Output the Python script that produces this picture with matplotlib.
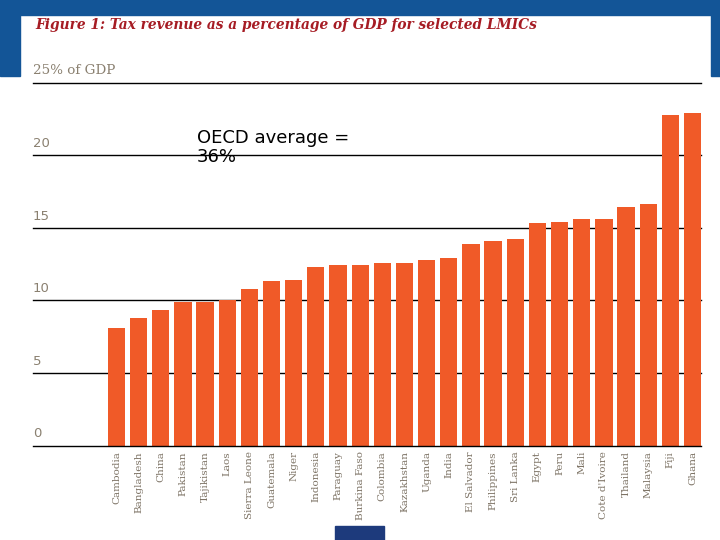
import matplotlib
matplotlib.use("Agg")
import matplotlib.pyplot as plt
from matplotlib.patches import Rectangle

countries = ["Cambodia", "Bangladesh", "China", "Pakistan", "Tajikistan", "Laos",
             "Sierra Leone", "Guatemala", "Niger", "Indonesia", "Paraguay",
             "Burkina Faso", "Colombia", "Kazakhstan", "Uganda", "India",
             "El Salvador", "Philippines", "Sri Lanka", "Egypt", "Peru", "Mali",
             "Cote d'Ivoire", "Thailand", "Malaysia", "Fiji", "Ghana"]
values = [8.1, 8.8, 9.35, 9.85, 9.85, 10.0, 10.75, 11.3, 11.4, 12.3, 12.45,
          12.45, 12.6, 12.6, 12.8, 12.9, 13.9, 14.1, 14.25, 15.35, 15.4, 15.6,
          15.6, 16.45, 16.6, 22.75, 22.9]
yticks = [0, 5, 10, 15, 20]
ytick_labels = ["0", "5", "10", "15", "20"]
title = "Figure 1: Tax revenue as a percentage of GDP for selected LMICs"
unit_label = "25% of GDP"
note = "OECD average =\n36%"

W, H = 720, 540
fig = plt.figure(figsize=(7.2, 5.4), dpi=100)
fig.patch.set_facecolor("white")

blue = "#135597"
def frect(x0, y0, x1, y1, color):
    # pixel coords with y from top
    fig.patches.append(Rectangle((x0 / W, 1 - y1 / H), (x1 - x0) / W, (y1 - y0) / H,
                                 transform=fig.transFigure, color=color, zorder=0))
frect(0, 0, 720, 15, blue)
frect(0, 0, 20, 76, blue)
frect(711, 0, 720, 76, blue)
frect(335, 526, 384, 540, "#1d3a7c")

ax_left, ax_right = 33, 701
y0px, y25px = 445.5, 82.5
ax = fig.add_axes([ax_left / W, 1 - y0px / H, (ax_right - ax_left) / W, (y0px - y25px) / H])
ax.set_facecolor("none")
for s in ax.spines.values():
    s.set_visible(False)

n = len(countries)
pitch = 22.16
first_c = 116.4
xl = -(first_c - ax_left) / pitch
xr = (n - 1) + (ax_right - (first_c + pitch * (n - 1))) / pitch
ax.set_xlim(xl, xr)
ax.set_ylim(0, 25)

for v in yticks + [25]:
    ax.axhline(v, color="black", lw=1.0, zorder=3 if v == 0 else 1, clip_on=False)

ax.bar(range(n), values, width=0.78, color="#f05a28", zorder=2)

ax.set_xticks(range(n))
ax.set_xticklabels(countries, rotation=90, fontsize=7.5, color="#7d7365",
                   family="DejaVu Serif")
ax.tick_params(axis="x", length=0, pad=4)
ax.set_yticks([])

for v, lab in zip(yticks, ytick_labels):
    ax.text(0, v + 0.35, lab, transform=ax.get_yaxis_transform(), ha="left",
            va="bottom", fontsize=9.5, color="#8a8070", family="DejaVu Sans")
ax.text(0, 25.35, unit_label, transform=ax.get_yaxis_transform(), ha="left",
        va="bottom", fontsize=9.7, color="#8a8070", family="DejaVu Serif")

fig.text(35 / W, 1 - 25 / H, title, ha="left", va="center", fontsize=9.9,
         color="#a61c24", weight="bold", style="italic", family="DejaVu Serif")
fig.text(197 / W, 1 - 129 / H, note, ha="left", va="top", fontsize=13,
         color="black", family="DejaVu Sans", linespacing=1.1)

fig.savefig("out.png", dpi=100)
